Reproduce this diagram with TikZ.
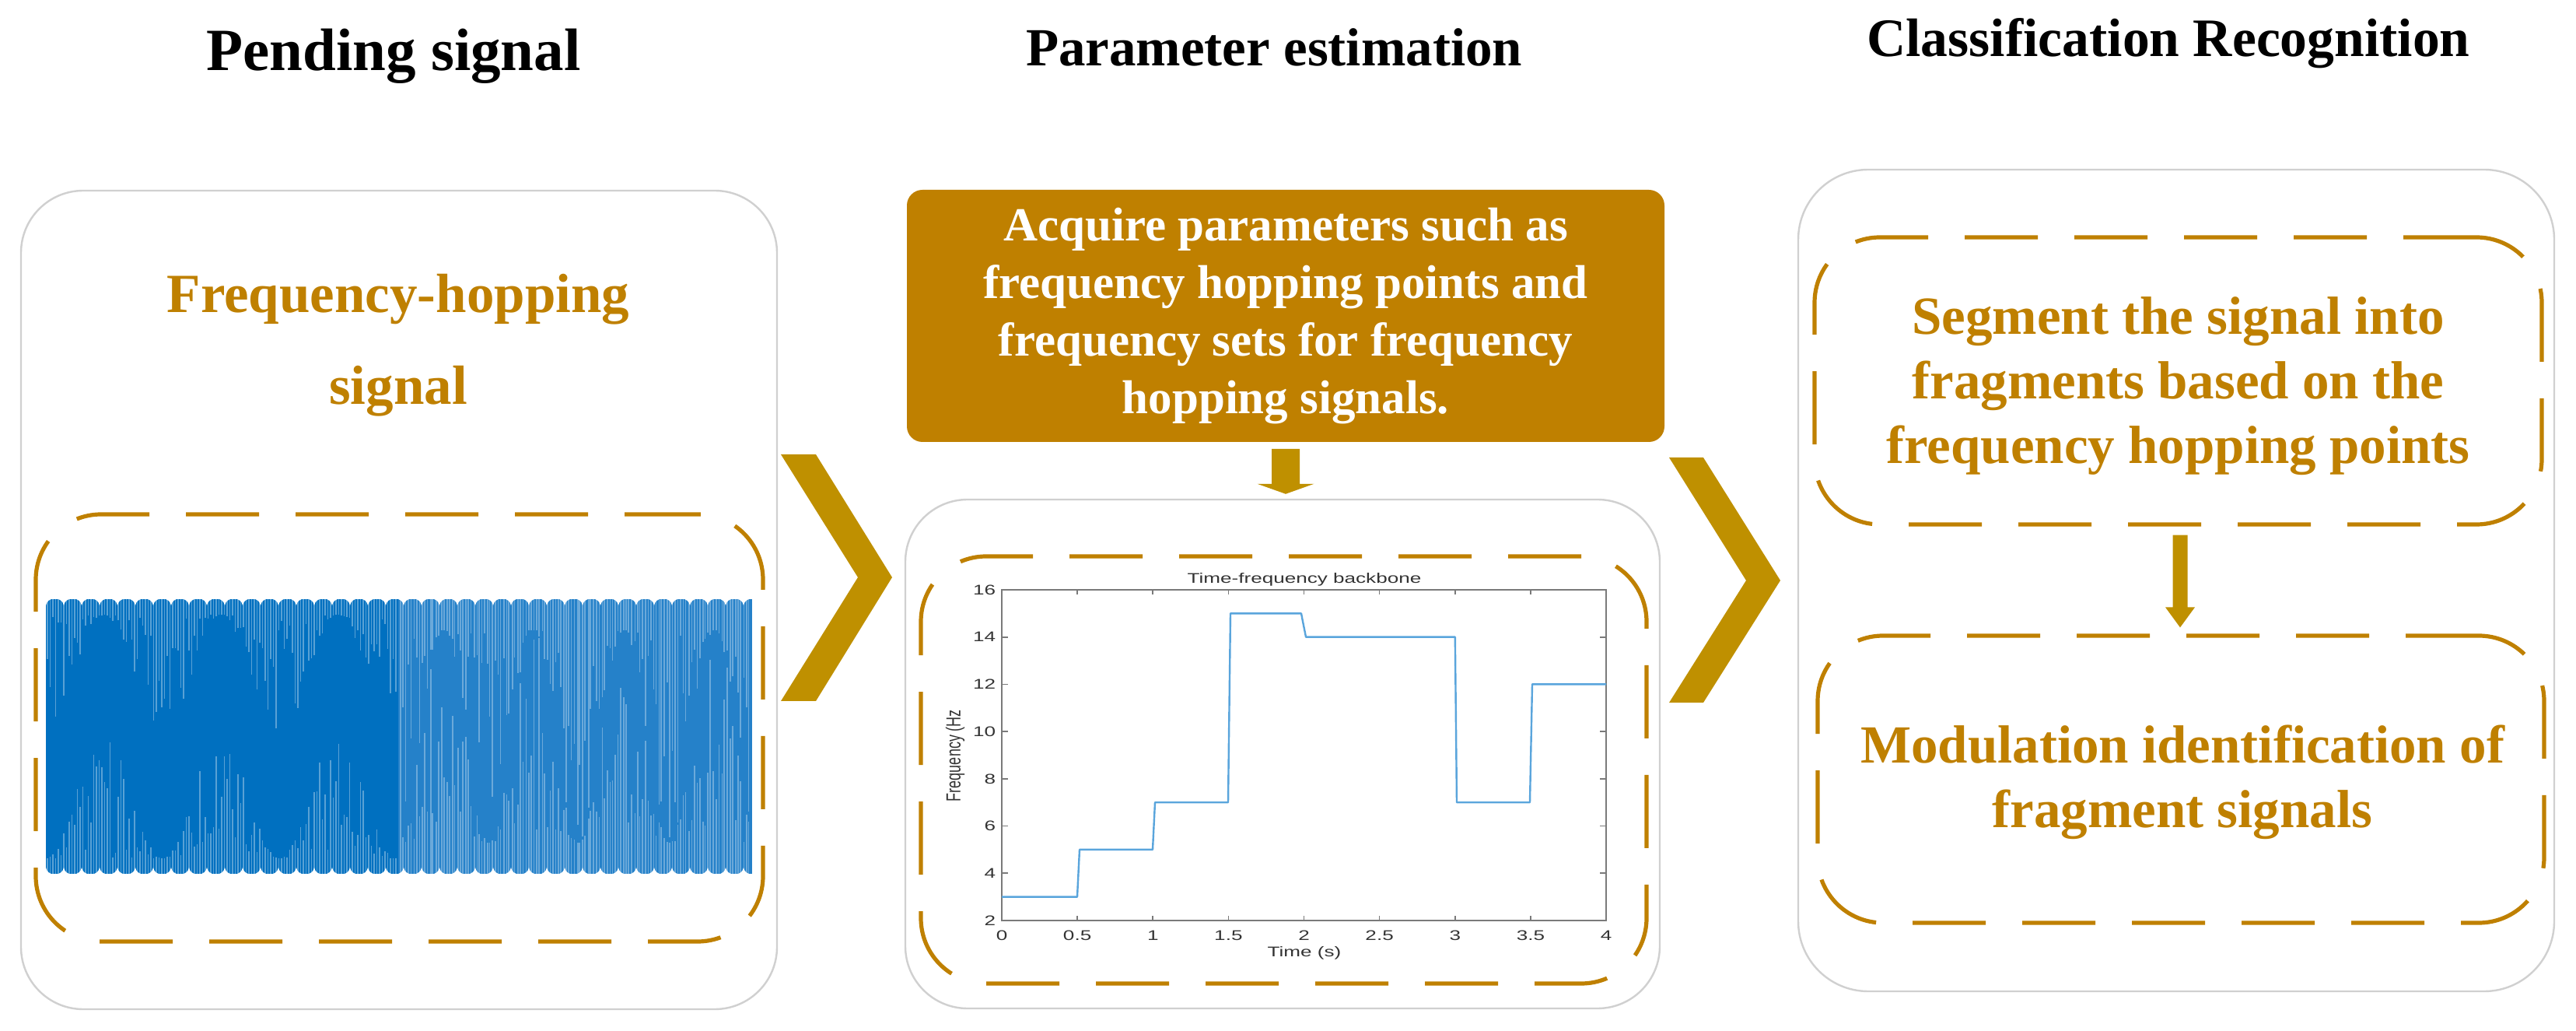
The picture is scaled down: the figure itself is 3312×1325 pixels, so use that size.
\documentclass[tikz,border=0pt]{standalone}
\usepackage{fontspec}
\setmainfont{Liberation Serif}
\newfontfamily\plotfont{Liberation Sans}
\usetikzlibrary{arrows.meta,calc}
\definecolor{gold}{HTML}{BF8000}
\definecolor{chev}{HTML}{BF9000}
\definecolor{boxgray}{HTML}{D0D0D0}
\definecolor{sigdark}{HTML}{0070C0}
\definecolor{siglight}{HTML}{2581C9}
\definecolor{tfline}{HTML}{5AA5DC}
\definecolor{axgray}{HTML}{7A7A7A}
\definecolor{labgray}{HTML}{333333}
\newcommand\pl[1]{\scalebox{1.45}[1]{\plotfont\fontsize{4.5pt}{5.4pt}\selectfont #1}}
\newcommand\plv[1]{\scalebox{1}[1.45]{\plotfont\fontsize{4.5pt}{5.4pt}\selectfont #1}}
\begin{document}
\begin{tikzpicture}[x=0.25pt,y=-0.25pt,
  outerbox/.style={draw=boxgray, line width=0.6pt, rounded corners=20pt, fill=white, inner sep=0pt},
  dashbox/.style={draw=gold, line width=1.3pt, rounded corners=21pt, dash pattern=on 23.5pt off 11.75pt, inner sep=0pt},
  titletext/.style={text=black, anchor=base, inner sep=0pt},
  goldtext/.style={text=gold, align=center},
  streak/.style={white, opacity=0.35, line width=0.35pt},
  streakb/.style={white, opacity=0.32, line width=0.4pt},
  blockarrow/.style={fill=chev},
  ticklab/.style={text=labgray, inner sep=0pt}
]
\useasboundingbox (0,0) rectangle (3312,1325);

% titles
\node[titletext, font=\fontsize{19.25pt}{23pt}\selectfont\bfseries] (t1) at (506,91) {Pending signal};
\node[titletext, font=\fontsize{17.25pt}{21pt}\selectfont\bfseries] (t2) at (1638,85) {Parameter estimation};
\node[titletext, font=\fontsize{17.4pt}{21pt}\selectfont\bfseries] (t3) at (2788,73) {Classification Recognition};

% outer boxes
\node[outerbox, minimum width=243pt, minimum height=263pt] (leftbox) at (513,771) {};
\node[outerbox, minimum width=242.5pt, minimum height=163.5pt] (midbox) at (1649,969) {};
\node[outerbox, minimum width=243pt, minimum height=264pt, rounded corners=22.5pt] (rightbox) at (2798,746) {};

% left column
\node[goldtext, font=\fontsize{17.75pt}{29.5pt}\selectfont\bfseries] (fhtext) at (512,444) {Frequency-hopping\\signal};
\node[dashbox, minimum width=233.75pt, minimum height=137.25pt] (leftdash) at (513.5,935.5) {};

% signal
\begin{scope}
\clip (59,770) rectangle (967,1123);
\fill[sigdark] (59,770) rectangle (512,1123);
\fill[siglight] (512,770) rectangle (967,1123);
\pgfmathsetseed{12}
\foreach \i in {0,...,128}{
  \pgfmathsetmacro{\xx}{61+3.5*\i}
  \pgfmathsetmacro{\env}{0.5+0.5*cos(2.4*(\xx-59))}
  \pgfmathsetmacro{\lt}{20+160*\env*rnd}
  \pgfmathsetmacro{\lb}{20+160*(1-\env)*rnd}
  \draw[streak] (\xx,770) -- (\xx,770+\lt);
  \draw[streak] (\xx,1123) -- (\xx,1123-\lb);
}
\foreach \i in {0,...,128}{
  \pgfmathsetmacro{\xx}{514+3.5*\i+1.5*rnd}
  \pgfmathsetmacro{\env}{0.5+0.5*cos(3.1*(\xx-512))}
  \pgfmathsetmacro{\lt}{40+280*\env*rnd}
  \pgfmathsetmacro{\lb}{40+280*(1-\env)*rnd}
  \draw[streakb] (\xx,770) -- (\xx,770+\lt);
  \draw[streakb] (\xx,1123) -- (\xx,1123-\lb);
}
\foreach \k in {0,...,40}{
  \pgfmathsetmacro{\xk}{59+23*\k}
  \fill[white] (\xk-11,769) .. controls (\xk-4,770) and (\xk-1,773) .. (\xk,778) .. controls (\xk+1,773) and (\xk+4,770) .. (\xk+11,769) -- cycle;
  \fill[white] (\xk-11,1124) .. controls (\xk-4,1123) and (\xk-1,1120) .. (\xk,1115) .. controls (\xk+1,1120) and (\xk+4,1123) .. (\xk+11,1124) -- cycle;
}
\end{scope}

% chevrons
\fill[chev] (1004,584) -- (1049,584) -- (1147,742) -- (1049,901) -- (1004,901) -- (1103,742) -- cycle;
\fill[chev] (2146,588) -- (2190,588) -- (2289,746) -- (2190,903) -- (2146,903) -- (2245,746) -- cycle;

% middle column
\node[fill=gold, rounded corners=5pt, minimum width=243.5pt, minimum height=81pt, inner sep=0pt,
      text=white, align=center, font=\fontsize{15.25pt}{18.5pt}\selectfont\bfseries] (acq) at (1653,406)
  {Acquire parameters such as\\frequency hopping points and\\frequency sets for frequency\\hopping signals.};
\coordinate (a1s) at ($(acq.south)+(0,8)$);
\coordinate (a1e) at ($(acq.south |- midbox.north)+(0,-6)$);
\fill[blockarrow] ($(a1s)+(-18,0)$) -- ($(a1s)+(18,0)$) -- ($(a1e)+(18,-13)$) -- ($(a1e)+(36.5,-13)$) -- (a1e)
  -- ($(a1e)+(-36.5,-13)$) -- ($(a1e)+(-18,-13)$) -- cycle;
\node[dashbox, minimum width=233.25pt, minimum height=137.25pt] (middash) at (1650.5,989.5) {};

% plot
\draw[axgray, line width=0.4pt] (1288,758) rectangle (2065,1183);
\foreach \t/\lab [count=\n] in {0/0,0.5/0.5,1/1,1.5/1.5,2/2,2.5/2.5,3/3,3.5/3.5,4/4}{
  \pgfmathsetmacro{\xt}{1288+194.25*\t}
  \draw[axgray, line width=0.4pt] (\xt,1183) -- (\xt,1177);
  \draw[axgray, line width=0.4pt] (\xt,758) -- (\xt,764);
  \node[ticklab] (xt\n) at (\xt,1202) {\pl{\lab}};
}
\foreach \v [count=\n] in {2,4,...,16}{
  \pgfmathsetmacro{\yt}{1183-30.357*(\v-2)}
  \draw[axgray, line width=0.4pt] (1288,\yt) -- (1296,\yt);
  \draw[axgray, line width=0.4pt] (2065,\yt) -- (2057,\yt);
  \node[ticklab, anchor=east] (yt\n) at (1281,\yt) {\pl{\v}};
}
\draw[tfline, line width=0.6pt, line join=round] (1288,1152.6) -- (1385,1152.6) -- (1388,1091.9) -- (1482,1091.9) -- (1485,1031.2) -- (1579,1031.2) -- (1582,788.4) -- (1673,788.4) -- (1679,818.7) -- (1870.8,818.7) -- (1873,1031.2) -- (1967,1031.2) -- (1970,879.4) -- (2065,879.4);
\node[ticklab] (ptitle) at (1677,745) {\pl{Time-frequency backbone}};
\node[ticklab] (xlab) at (1677,1225) {\pl{Time (s)}};
\node[ticklab, rotate=90] (ylab) at (1228,971) {\plv{Frequency (Hz}};

% right column
\node[dashbox, minimum width=233.75pt, minimum height=92.25pt] (seg) at (2800.5,489.5) {};
\node[goldtext, font=\fontsize{17.25pt}{20.75pt}\selectfont\bfseries] (segtext) at (2800.5,496)
  {Segment the signal into\\fragments based on the\\frequency hopping points};
\node[dashbox, minimum width=233.5pt, minimum height=92.25pt] (mod) at (2804,1001.5) {};
\node[goldtext, font=\fontsize{17.25pt}{20.75pt}\selectfont\bfseries] (modtext) at (2806,1005)
  {Modulation identification of\\fragment signals};
\coordinate (a2s) at ($(seg.south)+(2.5,11)$);
\coordinate (a2e) at ($(a2s |- mod.north)+(0,-8)$);
\fill[blockarrow] ($(a2s)+(-9.5,0)$) -- ($(a2s)+(9.5,0)$) -- ($(a2e)+(9.5,-26)$) -- ($(a2e)+(19,-26)$) -- (a2e)
  -- ($(a2e)+(-19,-26)$) -- ($(a2e)+(-9.5,-26)$) -- cycle;
\end{tikzpicture}
\end{document}
